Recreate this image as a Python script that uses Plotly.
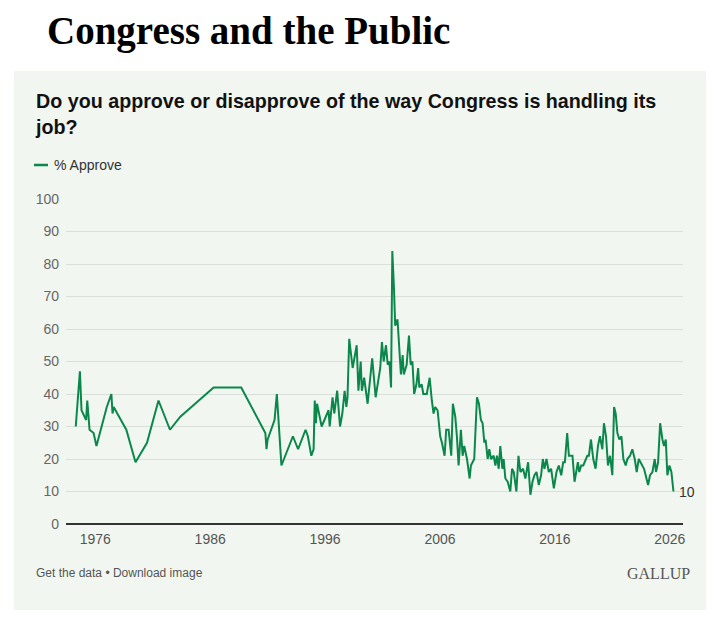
import plotly.graph_objects as go

# Gallup: Congress job approval, % approve
years = [
    1974.3, 1974.66, 1974.8, 1975.2, 1975.3, 1975.5, 1975.85, 1976.1, 1977.0, 1977.4,
    1977.5, 1977.6, 1978.7, 1979.5, 1980.5, 1981.5, 1982.5, 1983.4, 1986.3, 1988.7,
    1990.8, 1990.9, 1991.0, 1991.6, 1991.8, 1992.2,
    1993.2, 1993.65, 1994.3, 1994.5, 1994.8, 1995.0, 1995.1, 1995.2, 1995.3, 1995.45,
    1995.7, 1996.3, 1996.4, 1996.65, 1996.8, 1997.05, 1997.3, 1997.5, 1997.7, 1997.85,
    1997.95, 1998.1, 1998.4, 1998.75, 1998.9, 1999.1, 1999.2, 1999.4, 1999.7, 2000.1,
    2000.4, 2000.8, 2000.95, 2001.1, 2001.3, 2001.45, 2001.6, 2001.74, 2001.85, 2002.0,
    2002.1, 2002.3, 2002.45, 2002.6, 2002.75, 2002.85, 2003.1, 2003.3, 2003.45, 2003.6,
    2003.75, 2003.95, 2004.1, 2004.2, 2004.4, 2004.55, 2004.85, 2005.1,
    2005.29, 2005.44, 2005.58, 2005.79, 2006.02, 2006.17, 2006.40, 2006.54, 2006.75, 2006.89,
    2006.98, 2007.12, 2007.33, 2007.47, 2007.62, 2007.82, 2007.97, 2008.11, 2008.35, 2008.58,
    2008.69, 2008.98, 2009.22, 2009.39, 2009.56, 2009.71, 2009.86, 2009.97, 2010.15, 2010.29,
    2010.44, 2010.67, 2010.82, 2010.96, 2011.11, 2011.25, 2011.43, 2011.54, 2011.69, 2011.89,
    2012.12, 2012.27, 2012.42, 2012.65, 2012.83, 2013.00, 2013.23, 2013.43, 2013.67, 2013.87,
    2014.05, 2014.22, 2014.40, 2014.60, 2014.80, 2014.95, 2015.09, 2015.27, 2015.47, 2015.67,
    2015.91, 2016.14, 2016.34, 2016.55, 2016.72, 2016.87, 2017.07, 2017.22, 2017.36, 2017.53,
    2017.71, 2017.85, 2018.00, 2018.12, 2018.29, 2018.47, 2018.67, 2018.82, 2018.96, 2019.14,
    2019.34, 2019.54, 2019.75, 2019.92, 2020.13, 2020.27, 2020.45, 2020.62, 2020.80, 2021.00,
    2021.15, 2021.29, 2021.44, 2021.61, 2021.79, 2021.96, 2022.16, 2022.31, 2022.54, 2022.74,
    2022.95, 2023.12, 2023.30, 2023.47, 2023.76, 2023.90, 2024.11, 2024.28, 2024.49, 2024.69,
    2024.80, 2024.98, 2025.16, 2025.36, 2025.50, 2025.65, 2025.79, 2025.97, 2026.14, 2026.32,
]
approve = [
    30, 47, 35, 32, 38, 29, 28, 24, 36, 40,
    34, 36, 29, 19, 25, 38, 29, 33, 42, 42,
    28, 23, 26, 32, 40, 18,
    27, 23, 29, 27, 21, 23, 38, 31, 37, 34,
    30, 35, 30, 39, 34, 41, 30, 34, 41, 36,
    39, 57, 48, 55, 41, 50, 41, 45, 37, 51,
    39, 48, 56, 50, 55, 49, 50, 42, 84, 72,
    61, 63, 54, 46, 52, 46, 49, 58, 49, 50,
    40, 43, 48, 42, 43, 40, 40, 45,
    38, 34, 36, 35, 27, 25, 21, 29, 29, 25,
    21, 37, 33, 27, 18, 29, 21, 24, 20, 14,
    18, 20, 39, 37, 32, 31, 25, 26, 20, 23,
    20, 21, 18, 21, 17, 24, 17, 20, 14, 13,
    10, 17, 16, 10, 21, 16, 17, 14, 19, 9,
    13, 15, 16, 12, 15, 20, 17, 20, 16, 17,
    11, 16, 18, 15, 19, 19, 28, 21, 21, 21,
    13, 16, 19, 16, 18, 18, 20, 21, 21, 26,
    20, 17, 24, 27, 23, 31, 27, 18, 21, 15,
    36, 34, 28, 26, 27, 20, 18, 20, 21, 23,
    20, 16, 20, 19, 17, 15, 12, 15, 16, 20,
    16, 19, 31, 26, 24, 26, 15, 18, 16, 10,
]
tick_years = [1976, 1986, 1996, 2006, 2016, 2026]

green = "#0b874b"
panel = "#f1f7f0"
sans = "Liberation Sans, Arial, sans-serif"
serif = "Liberation Serif, Times New Roman, serif"

# page has an 8px body margin; plot area on the page is x 66..683, y 199..524
def px(x):
    return (x - 66) / 617

def py(y):
    return (524 - y) / 325

fig = go.Figure()
fig.add_trace(go.Scatter(x=years, y=approve, mode="lines",
                         line=dict(color=green, width=2), name="% Approve",
                         hoverinfo="x+y"))

# last value label
fig.add_annotation(x=years[-1], y=approve[-1], text=str(approve[-1]), showarrow=False,
                   xanchor="left", yanchor="middle", xshift=4,
                   font=dict(family=sans, size=14, color="#333"))

# green panel behind chart
fig.add_shape(type="rect", xref="paper", yref="paper",
              x0=px(14), x1=px(730), y0=py(610), y1=py(71),
              fillcolor=panel, line=dict(width=0), layer="below")

# legend drawn by hand (short line sample)
fig.add_shape(type="line", xref="paper", yref="paper",
              x0=px(34), x1=px(48), y0=py(165), y1=py(165),
              line=dict(color=green, width=2.5))
fig.add_annotation(xref="paper", yref="paper", x=px(52), y=py(165), text="% Approve",
                   showarrow=False, xanchor="left", yanchor="middle",
                   font=dict(family=sans, size=14, color="#333"))

fig.add_annotation(xref="paper", yref="paper", x=px(45), y=py(31),
                   text="<b>Congress and the Public</b>", showarrow=False,
                   xanchor="left", yanchor="middle",
                   font=dict(family=serif, size=39, color="#000"))
fig.add_annotation(xref="paper", yref="paper", x=px(33), y=py(114),
                   text="<b>Do you approve or disapprove of the way Congress is handling its<br>job?</b>",
                   showarrow=False, xanchor="left", yanchor="middle", align="left",
                   font=dict(family=sans, size=19.7, color="#111"))
fig.add_annotation(xref="paper", yref="paper", x=px(34), y=py(573),
                   text="Get the data \u2022 Download image", showarrow=False,
                   xanchor="left", yanchor="middle",
                   font=dict(family=sans, size=12, color="#555"))
fig.add_annotation(xref="paper", yref="paper", x=px(692), y=py(573),
                   text="GALLUP", showarrow=False, xanchor="right", yanchor="middle",
                   font=dict(family=serif, size=16, color="#555"))

fig.update_layout(
    width=714, height=623,
    margin=dict(l=58, r=39, t=191, b=107),
    paper_bgcolor="white",
    plot_bgcolor=panel,
    showlegend=False,
    font=dict(family=sans, size=14, color="#666"),
)
fig.update_xaxes(range=[1973.45, 2027.15], tickvals=tick_years,
                 ticktext=[str(t) for t in tick_years],
                 showgrid=False, zeroline=False, showline=False, ticks="",
                 ticklabelstandoff=5,
                 tickfont=dict(size=14, color="#555"))
fig.update_yaxes(range=[0, 100], tickvals=list(range(0, 101, 10)),
                 showgrid=True, gridcolor="#d9dfd9", gridwidth=1,
                 zeroline=True, zerolinecolor="#333", zerolinewidth=1.5,
                 showline=False, ticks="", ticklabelstandoff=6,
                 tickfont=dict(size=14, color="#666"))

fig.write_html("out.html")
